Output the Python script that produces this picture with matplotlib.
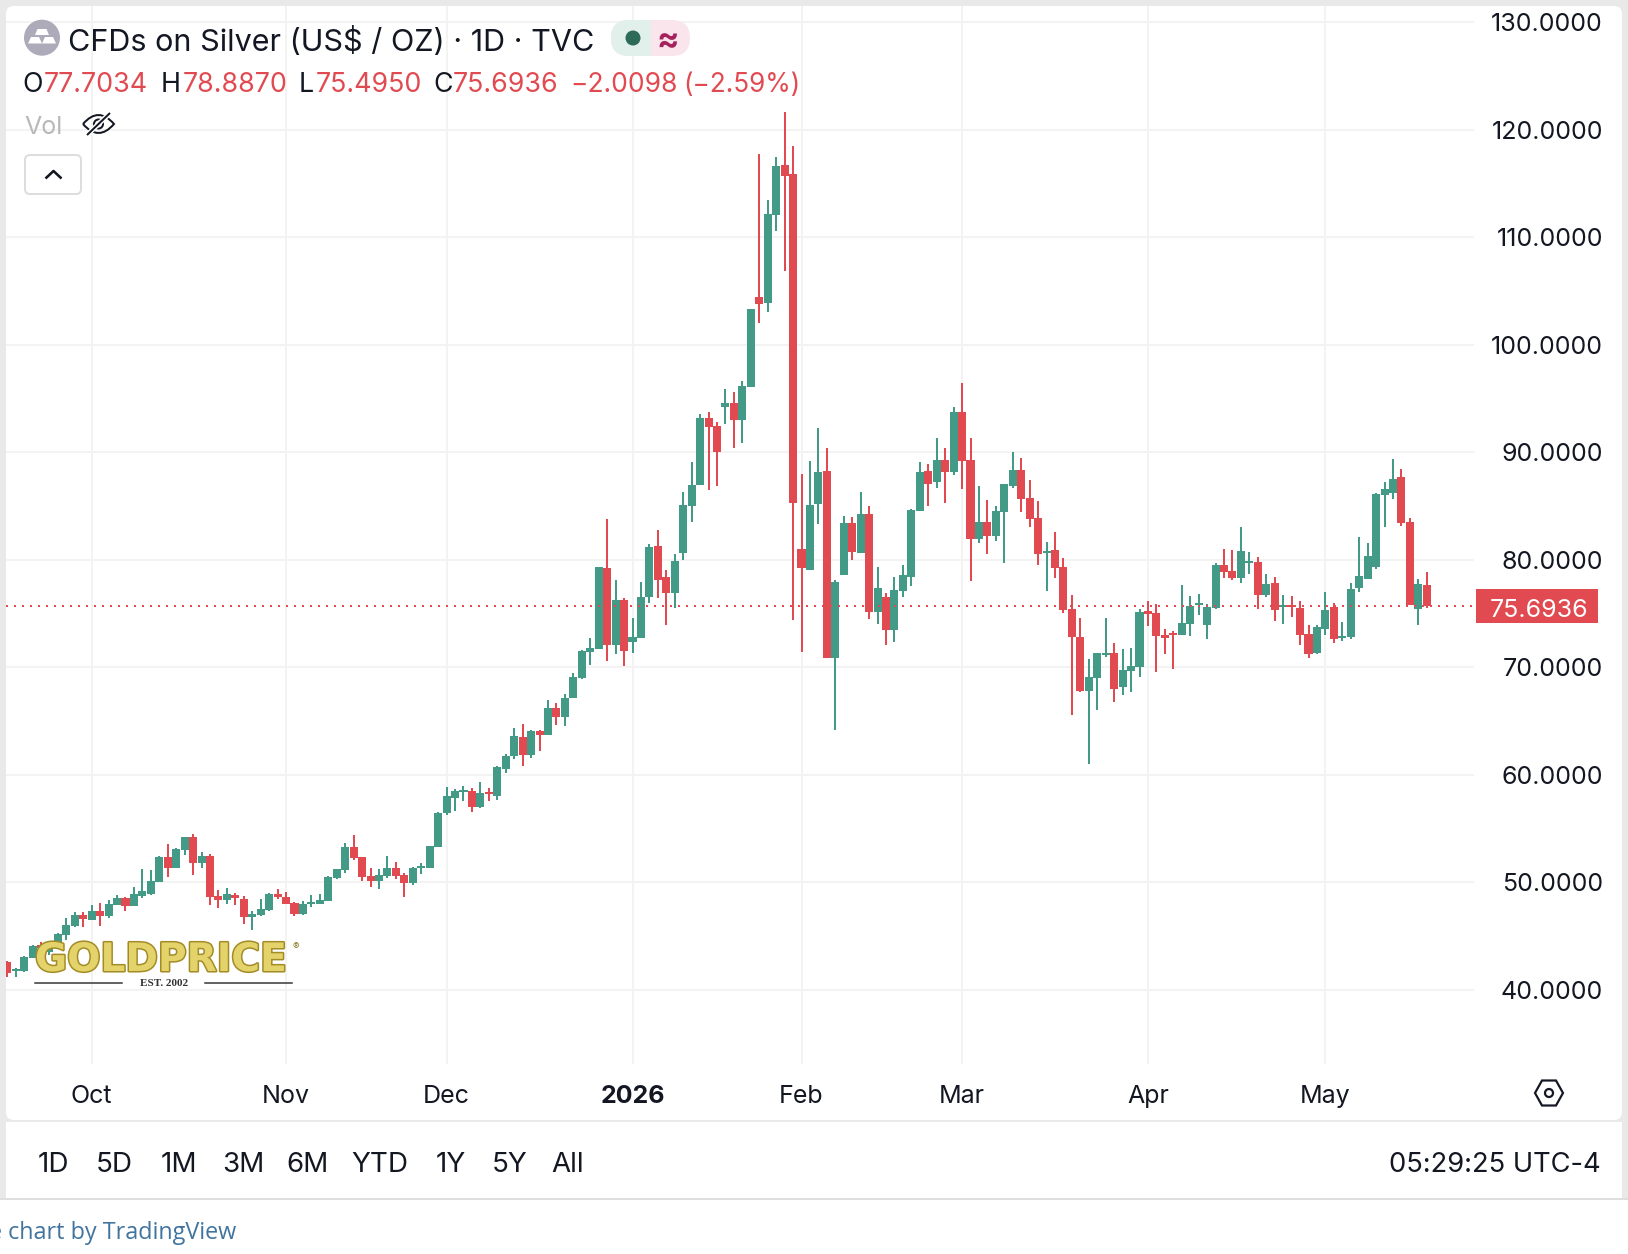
import matplotlib
matplotlib.use("Agg")
import matplotlib.pyplot as plt
import matplotlib.patheffects as pe
from matplotlib.patches import Rectangle, FancyBboxPatch, Circle, Polygon, PathPatch
from matplotlib.path import Path
from matplotlib.transforms import blended_transform_factory

plt.rcParams['font.family'] = ['Inter', 'DejaVu Sans']

opens = [42.60,41.80,41.77,43.01,44.19,43.57,44.28,45.12,45.95,46.98,
    46.51,47.35,46.88,47.91,48.59,47.81,48.74,48.90,50.05,52.37,
    51.35,53.02,54.23,51.81,52.47,48.74,48.37,48.84,48.47,46.79,
    46.98,47.44,48.93,48.65,48.09,47.07,48.00,48.00,48.28,50.42,
    51.16,53.30,52.37,50.61,50.14,50.61,51.35,50.70,49.95,51.38,
    51.35,53.30,56.47,57.86,58.45,58.51,57.02,58.42,58.05,60.56,
    61.77,63.54,61.86,64.09,63.72,66.23,65.40,67.16,69.03,71.44,
    71.72,79.26,72.10,76.28,72.37,72.75,76.56,81.31,78.42,76.93,
    80.65,85.03,86.98,93.21,92.47,94.24,94.61,93.03,96.10,104.47,
    103.91,112.09,116.75,115.91,81.02,79.07,85.21,88.28,70.88,78.60,
    83.44,80.65,84.28,75.16,76.56,73.49,77.12,78.42,84.56,88.28,
    87.26,89.30,88.19,93.77,89.30,81.95,83.54,82.23,84.47,86.89,
    88.37,85.77,83.91,80.65,80.93,79.35,75.44,72.84,67.81,69.02,
    71.16,71.35,68.19,69.67,70.05,75.26,75.07,73.02,73.21,73.02,
    74.05,75.81,73.95,75.54,79.53,78.98,78.33,79.72,79.81,76.74,
    77.86,75.63,75.81,75.54,73.12,71.35,73.58,75.63,72.74,72.84,
    77.40,78.23,79.35,86.05,86.23,87.72,83.54,75.44,77.7034]
highs = [42.70,42.02,43.16,44.19,44.43,44.40,45.30,46.70,47.26,47.26,
    47.88,48.09,48.34,48.84,48.65,49.58,51.26,51.16,52.47,53.58,
    53.21,54.23,54.51,52.84,52.65,49.30,49.49,49.02,48.74,47.35,
    48.47,49.02,49.40,49.12,48.19,48.28,48.84,48.93,50.61,51.26,
    53.68,54.42,52.37,51.35,51.26,52.47,51.91,50.88,51.44,51.81,
    53.40,56.56,58.89,58.70,58.98,58.79,59.35,58.79,60.84,61.95,
    64.37,64.75,64.19,64.19,66.98,66.70,67.54,69.49,71.63,72.75,
    79.35,83.82,78.14,76.47,74.61,77.96,81.49,82.79,79.07,80.56,
    86.33,89.12,93.58,93.77,92.84,95.91,95.63,96.66,103.35,117.77,
    113.49,117.49,121.68,118.51,88.00,89.21,92.28,90.42,78.14,84.09,
    84.00,86.33,85.03,79.35,76.93,78.42,79.53,84.74,89.12,88.93,
    91.35,90.42,94.24,96.47,91.35,86.89,85.58,85.03,87.07,90.05,
    89.49,87.44,85.49,81.67,82.60,80.19,76.74,74.60,70.79,71.35,
    74.60,72.28,71.72,71.81,75.44,76.19,75.91,73.58,73.40,77.67,
    76.65,76.84,75.91,79.72,81.02,80.93,83.07,80.74,80.28,78.70,
    78.42,76.74,76.65,76.19,73.95,73.95,77.02,76.00,74.23,77.86,
    82.14,81.58,86.23,87.26,89.40,88.47,83.91,78.23,78.887]
lows = [41.24,41.24,41.71,42.95,43.57,43.26,44.19,44.65,45.89,45.86,
    46.51,45.95,46.70,47.91,47.35,47.81,48.56,48.84,50.05,50.51,
    51.35,52.56,50.70,51.35,47.91,47.63,48.00,47.91,46.14,45.58,
    46.88,47.35,48.47,48.00,46.88,46.98,47.72,48.00,48.28,50.33,
    50.88,52.09,50.14,49.58,49.40,50.42,50.33,48.65,49.77,50.79,
    51.35,53.30,56.28,56.65,57.58,56.56,56.93,57.58,57.68,60.19,
    61.49,60.84,61.58,62.23,63.72,64.65,64.56,67.16,68.93,70.23,
    71.72,70.61,71.26,70.14,71.35,72.75,76.00,76.47,73.96,75.54,
    80.00,83.54,86.98,86.52,86.89,92.66,90.42,90.89,96.10,102.05,
    103.07,110.61,106.89,74.42,71.44,79.07,83.35,70.88,64.19,78.60,
    80.00,80.65,74.51,74.05,72.09,72.37,76.56,77.58,84.56,85.03,
    86.70,85.30,87.91,86.60,78.05,81.58,80.56,81.77,79.72,86.70,
    84.47,83.07,79.53,77.12,78.33,75.07,65.58,67.72,61.02,66.05,
    70.98,66.79,67.44,67.72,69.12,73.86,69.58,71.26,69.86,73.02,
    72.93,74.88,72.65,75.44,78.33,78.14,77.86,78.70,75.44,76.56,
    74.33,74.05,74.70,72.09,70.88,71.26,73.02,72.28,72.47,72.65,
    77.02,78.23,79.16,83.07,85.67,83.16,75.81,73.95,75.495]
closes = [41.61,41.95,43.10,44.12,43.88,44.34,45.21,46.05,46.98,46.61,
    47.35,46.88,48.00,48.56,47.81,48.93,49.21,50.14,52.37,51.35,
    53.12,54.23,51.81,52.47,48.65,48.37,48.93,48.56,46.79,47.04,
    47.54,48.93,48.65,48.00,47.07,48.00,48.16,48.37,50.51,51.26,
    53.30,52.28,50.51,50.14,50.70,51.35,50.61,49.95,51.35,51.54,
    53.40,56.47,58.05,58.51,58.61,57.02,58.33,58.23,60.75,61.77,
    63.63,61.86,64.09,63.72,66.23,65.40,67.16,69.12,71.54,71.82,
    79.35,72.10,76.28,71.54,72.84,76.56,81.21,78.14,76.93,79.91,
    85.12,86.98,93.21,92.38,90.05,94.61,93.03,96.19,103.35,103.82,
    112.19,116.65,115.72,85.30,79.26,85.12,88.19,70.88,77.96,83.44,
    80.74,84.28,75.16,77.40,73.49,77.21,78.60,84.65,88.19,87.07,
    89.30,88.19,93.77,89.21,81.95,83.54,82.23,84.56,87.07,88.37,
    85.67,83.82,80.56,80.84,79.26,75.35,72.84,67.81,69.12,71.35,
    71.35,68.00,69.77,70.14,75.16,74.98,72.93,72.74,73.02,74.14,
    75.72,76.00,75.63,79.53,78.88,78.33,80.84,79.91,76.74,77.77,
    75.35,75.81,75.63,73.02,71.26,73.77,75.35,72.65,72.93,77.30,
    78.51,80.37,86.14,86.60,87.53,83.44,75.81,77.77,75.6936]

month_labels = ['Oct', 'Nov', 'Dec', '2026', 'Feb', 'Mar', 'Apr', 'May']
month_index = [10, 33, 52, 74, 94, 113, 135, 156]
price_ticks = [40, 50, 60, 70, 80, 90, 100, 110, 120, 130]
last_price = 75.6936
ranges = ['1D', '5D', '1M', '3M', '6M', 'YTD', '1Y', '5Y', 'All']
range_x = [53, 114, 178.5, 243, 308, 380, 450.5, 510, 568]

UP = '#439A86'
DOWN = '#E04A50'
GRID = '#F3F3F3'
FRAME = '#E9E9E9'
INK = '#131722'
W, H = 1628, 1254
PX = 0.72
VA = 'center_baseline'

fig = plt.figure(figsize=(W / 100, H / 100), dpi=100, facecolor='white')

# page chrome sits behind the chart
bg = fig.add_axes([0, 0, 1, 1], zorder=0)
bg.set_xlim(0, W)
bg.set_ylim(H, 0)
bg.axis('off')
bg.add_patch(Rectangle((0, 0), W, 1200, fc=FRAME, ec='none'))
bg.add_patch(FancyBboxPatch((6, 6), 1616, 1114, boxstyle='round,pad=0,rounding_size=8', fc='white', ec='none'))
bg.add_patch(Rectangle((6, 1122), 1616, 76, fc='white', ec='none'))
bg.add_patch(Rectangle((0, 1198), W, 2, fc='#DEDEDE', ec='none'))

# main price pane, limits line up with the 8.45 px bar spacing
left, right, top, bottom = 6, 1474, 6, 1064
ax = fig.add_axes([left / W, 1 - bottom / H, (right - left) / W, (bottom - top) / H], zorder=1)
ax.patch.set_alpha(0)
ax.set_xlim(10 - (91.7 - left) / 8.45, 10 + (right - 91.7) / 8.45)
ax.set_ylim(33.116, 131.53)
for s in ax.spines.values():
    s.set_visible(False)

x = list(range(len(opens)))
colors = [UP if c >= o else DOWN for o, c in zip(opens, closes)]
ax.set_axisbelow(True)
ax.grid(True, color=GRID, lw=2 * PX)
ax.vlines(x, lows, highs, colors=colors, lw=2 * PX, zorder=3)
ax.bar(x, [abs(c - o) for o, c in zip(opens, closes)], bottom=[min(o, c) for o, c in zip(opens, closes)],
       width=0.95, color=colors, lw=0, zorder=3)
ax.axhline(last_price, color=DOWN, lw=2 * PX, ls=(0, (1, 3)), dash_capstyle='butt', zorder=4)

ax.yaxis.tick_right()
ax.set_yticks(price_ticks)
ax.set_yticklabels(['%.4f' % p for p in price_ticks], fontsize=18, color=INK)
ax.tick_params(axis='y', length=0, pad=129 * PX)
for lbl in ax.get_yticklabels():
    lbl.set_ha('right')
ax.set_xticks(month_index)
ax.set_xticklabels(month_labels, fontsize=18, color=INK)
ax.tick_params(axis='x', length=0, pad=21 * PX)
ax.get_xticklabels()[3].set_fontweight('bold')

# everything drawn over the chart, in pixel coordinates
ov = fig.add_axes([0, 0, 1, 1], zorder=2)
ov.patch.set_alpha(0)
ov.set_xlim(0, W)
ov.set_ylim(H, 0)
ov.axis('off')

trans = blended_transform_factory(ov.transData, ax.transData)
ov.add_patch(Rectangle((1476, last_price - 1.58), 122, 3.16, transform=trans, fc=DOWN, ec='none', clip_on=False))
ov.text(1588, last_price - 0.15, '%.4f' % last_price, transform=trans, color='white', fontsize=18, ha='right', va=VA)

ov.add_patch(Circle((42, 37.7), 18, fc='#ADABBA', ec='none'))
ov.add_patch(Polygon([(37.5, 29), (46.5, 29), (49, 35), (35, 35)], fc='white', ec='none'))
ov.add_patch(Polygon([(31, 37), (39, 37), (42, 43.5), (28, 43.5)], fc='white', ec='none'))
ov.add_patch(Polygon([(45, 37), (53, 37), (56, 43.5), (42, 43.5)], fc='white', ec='none'))
ov.text(68, 39, 'CFDs on Silver (US$ / OZ) · 1D · TVC', fontsize=22, color=INK, va=VA)

clip = FancyBboxPatch((611, 20), 79, 36, boxstyle='round,pad=0,rounding_size=18', fc='#FBE5EC', ec='none')
ov.add_patch(clip)
half = Rectangle((611, 20), 40, 36, fc='#E2F0EC', ec='none')
ov.add_patch(half)
half.set_clip_path(clip)
ov.add_patch(Circle((633, 38), 7.5, fc='#2D6A57', ec='none'))
ov.text(668, 38, '≈', fontsize=24, color='#A5225F', fontweight='bold', ha='center', va=VA)

ohlc = [(22, 'O', 43.5, '77.7034'), (161, 'H', 182.5, '78.8870'), (299, 'L', 315.5, '75.4950'), (433, 'C', 452.5, '75.6936')]
for lx, key, vx, val in ohlc:
    ov.text(lx, 82, key, fontsize=19.3, color=INK, va=VA)
    ov.text(vx, 82, val, fontsize=19.3, color=DOWN, va=VA)
ov.text(570, 82, '−2.0098', fontsize=19, color=DOWN, va=VA)
ov.text(683, 82, '(−2.59%)', fontsize=18.8, color=DOWN, va=VA)

ov.text(24, 125, 'Vol', fontsize=18, color='#B8B8B8', va=VA)
eye = Path([(83, 124), (98.5, 106), (114, 124), (98.5, 142), (83, 124)],
           [Path.MOVETO, Path.CURVE3, Path.CURVE3, Path.CURVE3, Path.CURVE3])
ov.add_patch(PathPatch(eye, fc='none', ec=INK, lw=2 * PX))
ov.add_patch(Circle((98.5, 124), 4.5, fc='none', ec=INK, lw=2 * PX))
ov.plot([87, 110], [135, 113], color='white', lw=5 * PX)
ov.plot([87, 110], [135, 113], color=INK, lw=2 * PX, solid_capstyle='butt')

ov.add_patch(FancyBboxPatch((25, 155), 56, 39, boxstyle='round,pad=0,rounding_size=5', fc='white', ec='#DDDDDD', lw=2 * PX))
ov.plot([45.5, 53.5, 61.5], [178.5, 171, 178.5], color=INK, lw=2.6 * PX, solid_capstyle='butt')

# logo over the candles
ov.text(35, 956, 'GOLDPRICE', fontsize=28.2, fontweight='bold', family='DejaVu Sans', color='#E3D36A', va=VA,
        path_effects=[pe.withStroke(linewidth=2.2, foreground='#A38C26')])
ov.text(296, 946, '®', fontsize=7, color='#8C7A22', ha='center', va=VA)
ov.plot([35, 122], [983, 983], color='#333333', lw=1.5 * PX)
ov.plot([205, 292], [983, 983], color='#333333', lw=1.5 * PX)
ov.text(164, 983, 'EST. 2002', fontsize=8, fontweight='bold', family='Liberation Serif', color='#333333', ha='center', va=VA)

hex_pts = [(1535, 1093), (1542, 1080.5), (1556, 1080.5), (1563, 1093), (1556, 1105.5), (1542, 1105.5)]
ov.add_patch(Polygon(hex_pts, fc='none', ec=INK, lw=2.2 * PX))
ov.add_patch(Circle((1549, 1093), 4, fc='none', ec=INK, lw=2.2 * PX))

for label, rx in zip(ranges, range_x):
    ov.text(rx, 1162, label, fontsize=20, color=INK, ha='center', va=VA)
ov.text(1601, 1162, '05:29:25 UTC-4', fontsize=19.7, color=INK, ha='right', va=VA)
ov.text(236, 1230, 'e chart by TradingView', fontsize=16.8, family='Open Sans', color='#41749E', ha='right', va=VA)

fig.savefig('out.png', dpi=100, facecolor='white')
